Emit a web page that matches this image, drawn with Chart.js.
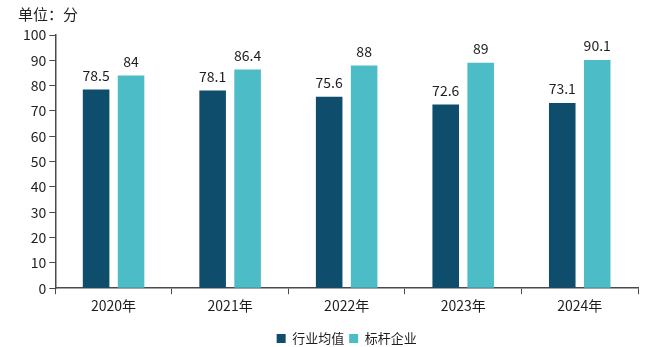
<!DOCTYPE html>
<html>
<head>
<meta charset="utf-8">
<script src="https://cdn.jsdelivr.net/npm/chart.js@4/dist/chart.umd.min.js"></script>
<style>
  html, body { margin: 0; padding: 0; background: #fff; }
  #wrap { width: 660px; height: 347px; position: relative; }
</style>
</head>
<body>
<div id="wrap"><canvas id="myChart"></canvas></div>
<script>
// 数据
var years = ['2020年', '2021年', '2022年', '2023年', '2024年'];
var industryAvg = [78.5, 78.1, 75.6, 72.6, 73.1];
var benchmark = [84, 86.4, 88, 89, 90.1];
var yTicks = [0, 10, 20, 30, 40, 50, 60, 70, 80, 90, 100];

var FONT = '"Noto Sans CJK SC", "Noto Sans", sans-serif';
var axisColor = '#4a4a4a';

// 柱顶数值 + 单位
var labelPlugin = {
    id: 'barLabels',
    afterDatasetsDraw: function (chart) {
        var ctx = chart.ctx;
        ctx.save();
        ctx.fillStyle = '#1e1e1e';
        ctx.font = '14px ' + FONT;
        ctx.textAlign = 'center';
        ctx.textBaseline = 'bottom';
        chart.data.datasets.forEach(function (ds, i) {
            chart.getDatasetMeta(i).data.forEach(function (bar, j) {
                ctx.fillText(String(ds.data[j]), bar.x, bar.y - 7);
            });
        });
        ctx.font = '15px ' + FONT;
        ctx.textAlign = 'left';
        ctx.textBaseline = 'middle';
        ctx.fillText('单位：分', 18, 14);
        ctx.restore();
    }
};

var ctx = document.getElementById('myChart').getContext('2d');
var chart = new Chart(ctx, {
    type: 'bar',
    data: {
        labels: years,
        datasets: [{
            label: '行业均值',
            backgroundColor: '#0f4d6c',
            data: industryAvg
        }, {
            label: '标杆企业',
            backgroundColor: '#4cbcc6',
            data: benchmark
        }]
    },
    options: {
        responsive: true,
        maintainAspectRatio: false,
        animation: false,
        datasets: {
            bar: { categoryPercentage: 0.6, barPercentage: 0.76 }
        },
        layout: { padding: { top: 35, right: 22, left: 20, bottom: -8 } },
        plugins: {
            tooltip: { enabled: false },
            legend: {
                position: 'bottom',
                fullSize: false,
                // 空标题只用来把图例往下推
                title: { display: true, text: ' ', font: { size: 5 }, padding: { top: 0, bottom: 4 } },
                labels: {
                    boxWidth: 9,
                    boxHeight: 9,
                    padding: 5,
                    color: '#1e1e1e',
                    font: { size: 13, family: FONT }
                }
            }
        },
        scales: {
            x: {
                grid: { drawOnChartArea: false, drawTicks: true, tickLength: 6, color: axisColor },
                border: { color: axisColor, width: 1.5 },
                ticks: { color: '#1e1e1e', font: { size: 14, family: FONT }, padding: 3 }
            },
            y: {
                min: 0,
                max: 100,
                afterBuildTicks: function (axis) {
                    axis.ticks = yTicks.map(function (v) { return { value: v }; });
                },
                grid: { drawOnChartArea: false, drawTicks: true, tickLength: 6, color: axisColor },
                border: { color: axisColor, width: 1.5 },
                ticks: { color: '#1e1e1e', font: { size: 14, family: FONT }, padding: 3 }
            }
        }
    },
    plugins: [labelPlugin]
});
</script>
</body>
</html>
